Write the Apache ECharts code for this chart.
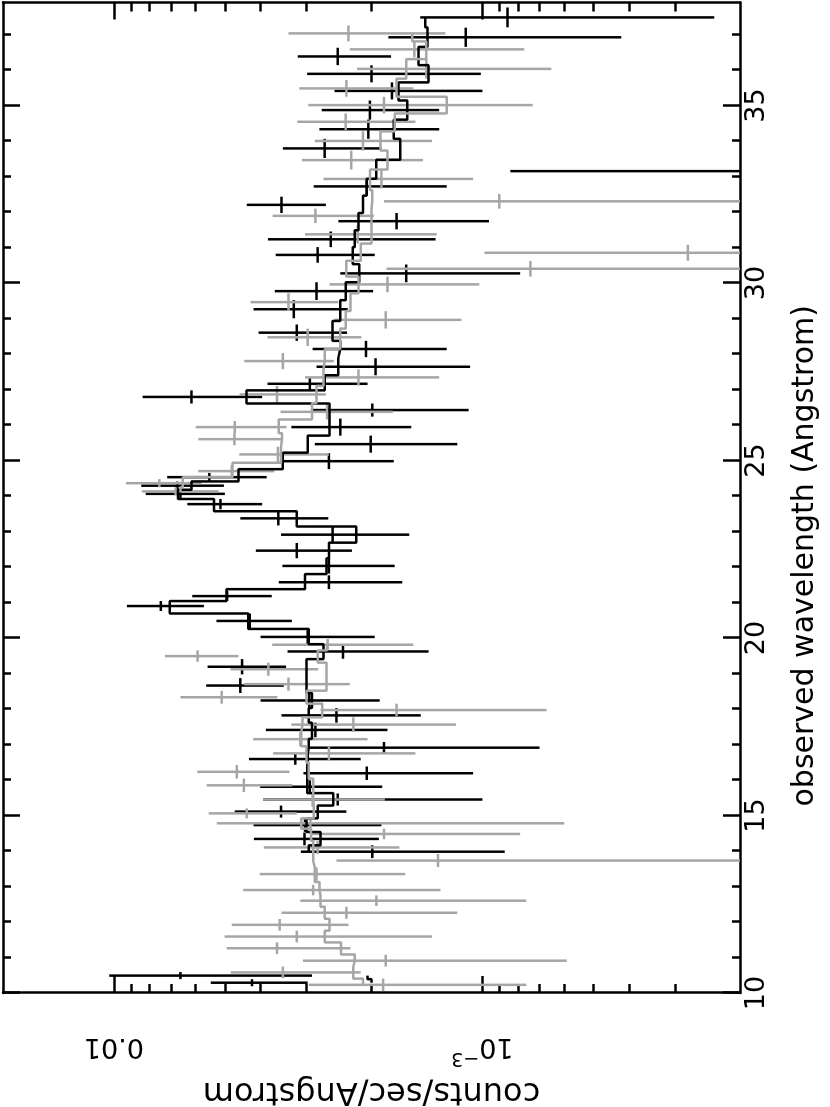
<!DOCTYPE html>
<html>
<head>
  <meta charset="utf-8">
  <title>spectrum</title>
  <script src="https://cdn.jsdelivr.net/npm/echarts@6/dist/echarts.min.js"></script>
  <style>
    html, body { margin: 0; padding: 0; background: #fff; }
    #wrap { position: relative; width: 830px; height: 1107px; overflow: hidden; }
    /* the plot is drawn landscape and turned a quarter turn to the left */
    #chart {
      position: absolute; left: 0; top: 0;
      width: 1107px; height: 830px;
      transform-origin: 0 0;
      transform: translateY(1107px) rotate(-90deg);
    }
  </style>
</head>
<body>
<div id="wrap"><div id="chart"></div></div>
<script>
  // black spectrum: wavelength (A), rate, error, model
  var blackWave = [10.29, 10.49, 13.98, 14.34, 14.73, 15.11, 15.45, 15.81, 16.19, 16.59, 16.91, 17.41, 17.82, 18.24,
    18.66, 19.19, 19.62, 20.03, 20.48, 20.90, 21.18, 21.57, 22.03, 22.46, 22.91, 23.37, 23.77, 24.06, 24.29, 24.53,
    24.98, 25.46, 25.94, 26.42, 26.79, 27.16, 27.64, 28.14, 28.60, 29.26, 29.77, 30.27, 30.79, 31.23, 31.74, 32.20,
    32.72, 33.15, 33.79, 34.33, 34.87, 35.41, 35.89, 36.38, 36.92, 37.48];
  var blackRate = [4.22e-3, 6.6e-3, 1.99e-3, 3.04e-3, 3.03e-3, 3.52e-3, 2.47e-3, 2.94e-3, 2.06e-3, 3.22e-3, 1.85e-3,
    2.84e-3, 2.49e-3, 2.95e-3, 4.54e-3, 4.49e-3, 2.39e-3, 2.98e-3, 4.28e-3, 7.46e-3, 4.93e-3, 2.61e-3, 2.61e-3,
    3.19e-3, 2.55e-3, 3.58e-3, 5.14e-3, 6.6e-3, 6.73e-3, 5.51e-3, 2.61e-3, 2.01e-3, 2.43e-3, 1.99e-3, 6.16e-3,
    2.94e-3, 1.95e-3, 2.07e-3, 3.19e-3, 3.25e-3, 2.82e-3, 1.61e-3, 2.80e-3, 2.58e-3, 1.71e-3, 3.51e-3, 2.06e-3,
    1.2e-4, 2.68e-3, 2.04e-3, 2.02e-3, 1.76e-3, 2.0e-3, 2.47e-3, 1.11e-3, 8.55e-4];
  var blackErr = [1.24e-3, 3.7e-3, 1.12e-3, 1.13e-3, 1.15e-3, 1.18e-3, 1.47e-3, 1.07e-3, 1.0e-3, 1.08e-3, 1.15e-3,
    1.03e-3, 1.02e-3, 1.05e-3, 1.08e-3, 1.08e-3, 9.9e-4, 1.02e-3, 9.9e-4, 1.76e-3, 1.2e-3, 9.6e-4, 8.8e-4, 9.3e-4,
    9.7e-4, 9.6e-4, 1.18e-3, 1.6e-3, 1.7e-3, 1.66e-3, 8.7e-4, 8.4e-4, 8.7e-4, 9.0e-4, 2.2e-3, 8.9e-4, 8.7e-4,
    8.2e-4, 8.6e-4, 9.3e-4, 8.4e-4, 8.2e-4, 8.4e-4, 1.24e-3, 7.5e-4, 8.5e-4, 8.1e-4, 7.2e-4, 8.0e-4, 7.3e-4,
    7.1e-4, 7.6e-4, 9.9e-4, 7.0e-4, 6.9e-4, 6.2e-4];
  var blackModel = [2.0e-3, 2.05e-3, 2.96e-3, 2.75e-3, 3.0e-3, 2.8e-3, 2.54e-3, 2.99e-3, 2.99e-3, 2.98e-3, 2.96e-3,
    2.9e-3, 2.96e-3, 2.9e-3, 3.0e-3, 3.0e-3, 2.7e-3, 2.96e-3, 4.32e-3, 7.05e-3, 4.95e-3, 3.03e-3, 2.65e-3, 2.61e-3,
    2.2e-3, 3.19e-3, 5.35e-3, 6.7e-3, 6.16e-3, 4.59e-3, 3.48e-3, 2.98e-3, 2.60e-3, 2.60e-3, 4.37e-3, 2.68e-3,
    2.46e-3, 2.43e-3, 2.55e-3, 2.43e-3, 2.35e-3, 2.16e-3, 2.25e-3, 2.22e-3, 2.17e-3, 2.11e-3, 2.06e-3, 1.94e-3,
    1.67e-3, 1.74e-3, 1.6e-3, 1.69e-3, 1.40e-3, 1.49e-3, 1.41e-3, 1.43e-3];

  // grey spectrum
  var grayWave = [10.23, 10.58, 10.91, 11.26, 11.59, 11.92, 12.26, 12.60, 12.90, 13.35, 13.73, 14.10, 14.48, 14.78,
    15.06, 15.45, 15.85, 16.23, 16.75, 17.15, 17.56, 17.97, 18.33, 18.70, 19.12, 19.49, 19.81, 24.13, 24.36, 24.70,
    25.17, 25.60, 25.94, 26.37, 26.86, 27.34, 27.80, 28.47, 28.96, 29.46, 29.96, 30.40, 30.85, 31.37, 31.89, 32.30,
    32.93, 33.46, 34.00, 34.54, 35.01, 35.48, 36.03, 36.58, 37.03];
  var grayRate = [1.86e-3, 3.48e-3, 1.83e-3, 3.61e-3, 3.19e-3, 3.55e-3, 2.34e-3, 1.94e-3, 2.88e-3, 2.82e-3, 1.32e-3,
    2.8e-3, 1.85e-3, 2.93e-3, 4.36e-3, 2.89e-3, 4.44e-3, 4.64e-3, 2.61e-3, 3.12e-3, 2.24e-3, 1.71e-3, 5.1e-3,
    3.36e-3, 3.81e-3, 5.93e-3, 2.63e-3, 6.8e-3, 7.53e-3, 4.79e-3, 3.59e-3, 4.71e-3, 4.7e-3, 2.64e-3, 3.61e-3,
    2.17e-3, 3.48e-3, 2.98e-3, 1.83e-3, 3.36e-3, 1.81e-3, 7.41e-4, 2.77e-4, 2.18e-3, 2.84e-3, 9.0e-4, 1.88e-3,
    2.27e-3, 2.11e-3, 2.35e-3, 1.85e-3, 2.34e-3, 1.42e-3, 1.53e-3, 2.31e-3];
  var grayErr = [1.1e-3, 1.34e-3, 1.24e-3, 1.33e-3, 1.82e-3, 1.24e-3, 1.17e-3, 1.18e-3, 1.58e-3, 1.2e-3, 1.17e-3,
    1.12e-3, 1.06e-3, 2.33e-3, 1.17e-3, 1.05e-3, 1.16e-3, 1.3e-3, 1.09e-3, 1.07e-3, 1.06e-3, 1.04e-3, 1.5e-3,
    1.07e-3, 1.02e-3, 1.34e-3, 1.09e-3, 1.6e-3, 1.75e-3, 1.12e-3, 9.8e-4, 1.19e-3, 1.3e-3, 8.9e-4, 9.5e-4, 8.6e-4,
    9.5e-4, 8.5e-4, 6.9e-4, 9.0e-4, 7.9e-4, 1.08e-3, 7.1e-4, 8.5e-4, 8.7e-4, 9.5e-4, 8.2e-4, 8.2e-4, 7.4e-4,
    8.3e-4, 1.12e-3, 8.0e-4, 7.7e-4, 7.6e-4, 1.05e-3];
  var grayModel = [2.11e-3, 2.24e-3, 2.22e-3, 2.42e-3, 2.68e-3, 2.6e-3, 2.68e-3, 2.75e-3, 2.77e-3, 2.85e-3, 2.88e-3,
    2.88e-3, 2.92e-3, 3.1e-3, 2.87e-3, 2.88e-3, 2.88e-3, 2.96e-3, 3.0e-3, 3.1e-3, 3.08e-3, 2.72e-3, 3.0e-3,
    2.65e-3, 2.65e-3, 2.8e-3, 2.64e-3, 6.6e-3, 6.5e-3, 4.77e-3, 3.52e-3, 3.5e-3, 3.57e-3, 2.9e-3, 2.82e-3, 2.7e-3,
    2.68e-3, 2.43e-3, 2.35e-3, 2.28e-3, 2.17e-3, 2.34e-3, 2.14e-3, 2.0e-3, 2.0e-3, 1.99e-3, 2.02e-3, 1.81e-3,
    1.89e-3, 1.73e-3, 1.25e-3, 1.71e-3, 1.61e-3, 1.42e-3, 1.55e-3];

  // axes
  var waveMin = 10, waveMax = 37.9;
  var rateMin = 2e-4, rateMax = 0.02;
  var waveLabels = [10, 15, 20, 25, 30, 35];
  var rateLabels = [0.001, 0.01];

  var waveMinor = [];
  for (var w = 11; w < waveMax; w++) if (w % 5 !== 0) waveMinor.push(w);
  var rateMinor = [];
  [1e-4, 1e-3, 1e-2].forEach(function (d) {
    for (var m = 2; m <= 9; m++) {
      var v = +(m * d).toPrecision(3);
      if (v > rateMin && v < rateMax) rateMinor.push(v);
    }
  });

  var BLACK = '#000000', GREY = '#a6a6a6', LW = 2.5;

  // bin half width from the spacing to the nearest neighbour
  function crossData(wave, rate, err) {
    return wave.map(function (x, i) {
      var d = [];
      if (i > 0 && x - wave[i - 1] < 1.2) d.push(x - wave[i - 1]);
      if (i < wave.length - 1 && wave[i + 1] - x < 1.2) d.push(wave[i + 1] - x);
      var hw = d.length ? Math.min.apply(null, d) / 2 : 0.2;
      return [x, hw, rate[i], err[i]];
    });
  }

  // split a model into runs of neighbouring bins
  function modelRuns(wave, model) {
    var runs = [], cur = [];
    wave.forEach(function (x, i) {
      if (cur.length && x - wave[i - 1] > 1.2) { runs.push(cur); cur = []; }
      cur.push([x, model[i]]);
    });
    runs.push(cur);
    return runs;
  }

  function crossRenderer(color) {
    return function (params, api) {
      var cs = params.coordSys;
      var top = cs.y, bot = cs.y + cs.height;
      var x = api.value(0), hw = api.value(1), y = api.value(2), e = api.value(3);
      var lo = Math.max(y - e, 1e-6);
      var a = api.coord([x - hw, y]), b = api.coord([x + hw, y]);
      var c = api.coord([x, y + e]), d = api.coord([x, lo]);
      var kids = [];
      var y1 = Math.max(Math.min(c[1], bot), top), y2 = Math.max(Math.min(d[1], bot), top);
      if (y2 - y1 > 0.5) {
        kids.push({ type: 'line', shape: { x1: c[0], y1: y1, x2: c[0], y2: y2 },
          style: { stroke: color, lineWidth: LW } });
      }
      if (a[1] >= top && a[1] <= bot) {
        kids.push({ type: 'line', shape: { x1: a[0], y1: a[1], x2: b[0], y2: b[1] },
          style: { stroke: color, lineWidth: LW } });
      }
      return { type: 'group', children: kids };
    };
  }

  var series = [];
  function addSet(wave, rate, err, model, color) {
    series.push({
      type: 'custom', xAxisIndex: 0, yAxisIndex: 0,
      renderItem: crossRenderer(color),
      encode: { x: 0, y: 2 },
      data: crossData(wave, rate, err),
      silent: true, z: 2
    });
    modelRuns(wave, model).forEach(function (run) {
      series.push({
        type: 'line', xAxisIndex: 0, yAxisIndex: 0, step: 'middle',
        data: run, showSymbol: false, silent: true, z: 3,
        lineStyle: { color: color, width: LW }
      });
    });
  }
  addSet(blackWave, blackRate, blackErr, blackModel, BLACK);
  addSet(grayWave, grayRate, grayErr, grayModel, GREY);

  var lineSty = { color: '#000', width: LW };
  var font = 'DejaVu Sans';

  function waveAxis(pos, ticks, len, main) {
    return {
      type: 'value', position: pos, min: waveMin, max: waveMax,
      axisLine: { show: main, onZero: false, lineStyle: lineSty },
      axisTick: { show: true, inside: true, length: len, lineStyle: lineSty, customValues: ticks },
      axisLabel: { show: main && pos === 'bottom', customValues: waveLabels, margin: 3,
        fontFamily: font, fontSize: 27, color: '#000' },
      splitLine: { show: false },
      name: main && pos === 'bottom' ? 'observed wavelength (Angstrom)' : '',
      nameLocation: 'middle', nameGap: 50,
      nameTextStyle: { fontFamily: font, fontSize: 30, color: '#000', padding: [0, 116, 0, 0] }
    };
  }

  function rateAxis(pos, ticks, len, main) {
    return {
      type: 'log', logBase: 10, position: pos, min: rateMin, max: rateMax,
      axisLine: { show: main, onZero: false, lineStyle: lineSty },
      axisTick: { show: true, inside: true, length: len, lineStyle: lineSty, customValues: ticks },
      axisLabel: {
        show: main && pos === 'left', customValues: rateLabels, rotate: 90, margin: 40,
        fontFamily: font, fontSize: 27, color: '#000',
        formatter: function (v) {
          return v > 0.005 ? '0.01' : '{b|10}{s|\u22123}';
        },
        rich: {
          b: { fontFamily: font, fontSize: 27, color: '#000', lineHeight: 34, verticalAlign: 'bottom' },
          s: { fontFamily: font, fontSize: 19, color: '#000', lineHeight: 20, verticalAlign: 'top' }
        }
      },
      splitLine: { show: false },
      minorSplitLine: { show: false },
      name: main && pos === 'left' ? 'counts/sec/Angstrom' : '',
      nameLocation: 'middle', nameGap: 78, nameRotate: 90,
      nameTextStyle: { fontFamily: font, fontSize: 32, color: '#000' }
    };
  }

  var chart = echarts.init(document.getElementById('chart'));
  chart.setOption({
    animation: false,
    backgroundColor: '#fff',
    grid: { left: 114, right: 2.5, top: 3, bottom: 90, containLabel: false, outerBoundsMode: 'none' },
    xAxis: [
      waveAxis('bottom', waveLabels, 17, true),
      waveAxis('bottom', waveMinor, 8, false),
      waveAxis('top', waveLabels, 17, true),
      waveAxis('top', waveMinor, 8, false)
    ],
    yAxis: [
      rateAxis('left', rateLabels, 17, true),
      rateAxis('left', rateMinor, 9, false),
      rateAxis('right', rateLabels, 17, true),
      rateAxis('right', rateMinor, 9, false)
    ],
    series: series
  });
</script>
</body>
</html>
